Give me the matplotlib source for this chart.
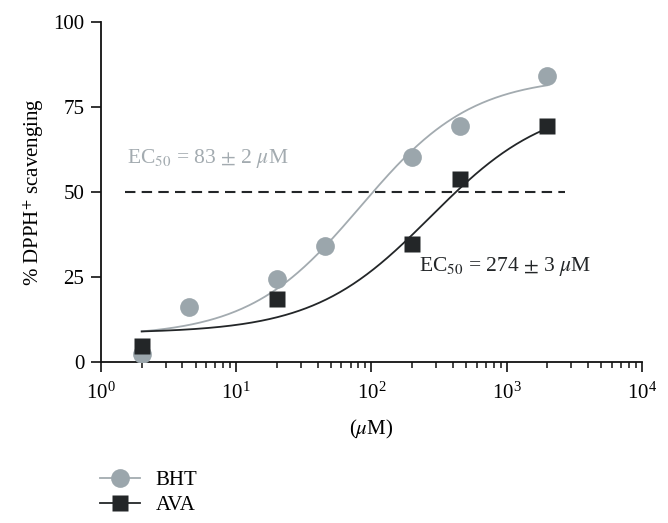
import matplotlib

matplotlib.use("Agg")
import matplotlib.pyplot as plt  # noqa: E402
import numpy as np  # noqa: E402

# measured points (concentration in uM, % scavenging)
bht_conc = [2, 4.5, 20, 45, 200, 450, 2000]
bht_scav = [2.3, 16.2, 24.3, 34.2, 60.3, 69.4, 84.1]
ava_conc = [2, 20, 200, 450, 2000]
ava_scav = [4.7, 18.5, 34.7, 53.8, 69.4]

# fitted 4-parameter logistic curves: bottom, top, EC50, hill
bht_fit = (7.5, 84.0, 83.0, 1.05)
ava_fit = (8.5, 77.0, 274.0, 1.0)

y_ticks = [0, 25, 50, 75, 100]

GRAY = "#9ba6ac"
GRAY_LINE = "#a3abb0"
DARK = "#232628"

plt.rcParams["font.family"] = ["Liberation Serif", "DejaVu Serif"]
plt.rcParams["mathtext.fontset"] = "stix"
plt.rcParams["font.size"] = 15


def logistic(x, params):
    bottom, top, ec50, hill = params
    return bottom + (top - bottom) / (1 + (ec50 / x) ** hill)


fig = plt.figure(figsize=(6.68, 5.23), dpi=100)
ax = fig.add_axes([0.1512, 0.3078, 0.8098, 0.6502])

xs = np.logspace(np.log10(2), np.log10(2000), 300)
ax.plot(xs, logistic(xs, bht_fit), color=GRAY_LINE, lw=1.3, zorder=2)
ax.plot(xs, logistic(xs, ava_fit), color=DARK, lw=1.3, zorder=2)

ax.plot([1.5, 2700], [50, 50], color=DARK, lw=1.5, ls=(0, (5, 3)), zorder=1)

ax.plot(bht_conc, bht_scav, "o", color=GRAY, ms=13.5, mec="none", zorder=3)
ax.plot(ava_conc, ava_scav, "s", color=DARK, ms=11.5, mec="none", zorder=4)

ax.text(1.56, 58.4, r"EC$_{50}$ = 83 $\pm$ 2 $\mu$M", color="#a3abb0",
        fontsize=15.5, va="baseline")
ax.text(223, 26.8, r"EC$_{50}$ = 274 $\pm$ 3 $\mu$M", color=DARK,
        fontsize=15.5, va="baseline")

ax.set_xscale("log")
ax.set_xlim(1, 1e4)
ax.set_ylim(0, 100)
ax.set_yticks(y_ticks)
ax.set_xlabel(r"($\mu$M)", labelpad=10)
ax.set_ylabel(r"% DPPH$^{+}$ scavenging", labelpad=5)

for side in ("top", "right"):
    ax.spines[side].set_visible(False)
for side in ("left", "bottom"):
    ax.spines[side].set_linewidth(1.3)
    ax.spines[side].set_color("#111111")
ax.tick_params(which="major", length=7, width=1.2, color="#111111", pad=5)
ax.tick_params(which="minor", length=4.5, width=1.1, color="#111111")
ax.tick_params(axis="x", which="major", pad=8)

handles = [
    plt.Line2D([], [], color=GRAY_LINE, lw=1.3, marker="o", ms=13.5, mfc=GRAY, mec="none"),
    plt.Line2D([], [], color=DARK, lw=1.3, marker="s", ms=11.5, mfc=DARK, mec="none"),
]
fig.legend(handles, ["BHT", "AVA"], loc="upper left", bbox_to_anchor=(0.15, 0.1),
           frameon=False, handlelength=1.9, handletextpad=0.75, labelspacing=0.25,
           fontsize=15, borderaxespad=0, borderpad=0)

fig.savefig("out.png", dpi=100)
